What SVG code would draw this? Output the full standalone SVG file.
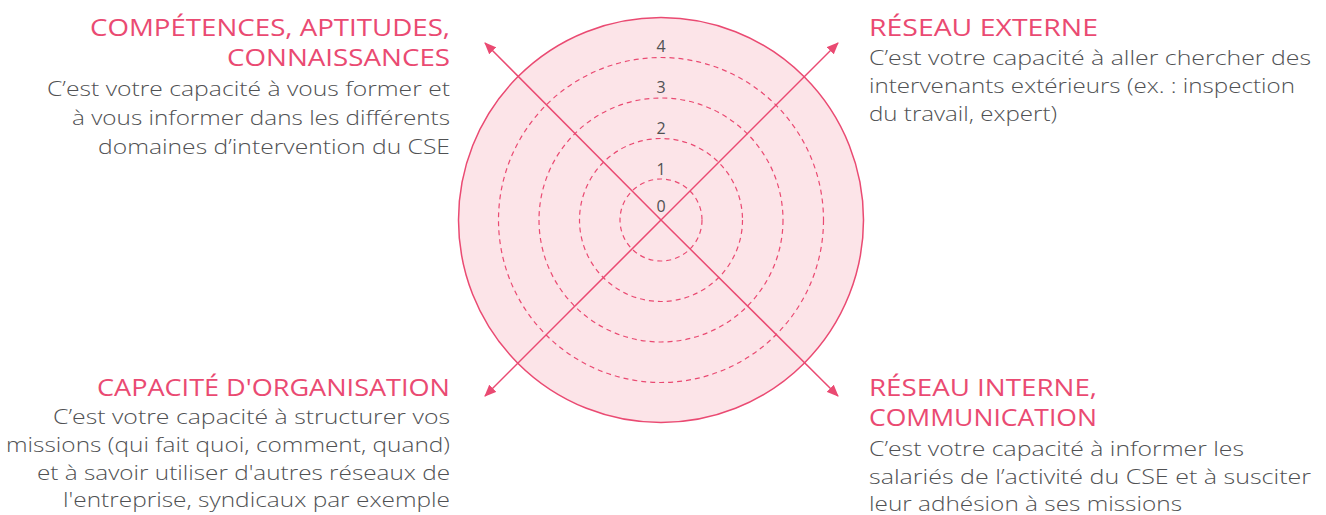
<svg xmlns="http://www.w3.org/2000/svg" width="1326" height="515" viewBox="0 0 1326 515">
<style>
.t{font-family:"Open Sans",Lato,sans-serif;font-size:24px;fill:#ea4a72}
.b{font-family:"Open Sans",Lato,sans-serif;font-size:21px;font-weight:300;fill:#505153}
.n{font-family:"Open Sans",Lato,sans-serif;font-size:16px;fill:#505153;text-anchor:middle}
.r{text-anchor:end}
.ring{fill:none;stroke:#ea4a72;stroke-width:1.2;stroke-dasharray:5 4}
.ax{stroke:#ea4a72;stroke-width:1.5;fill:none;marker-end:url(#ah)}
</style>
<defs>
<marker id="ah" viewBox="0 0 12 10" refX="11" refY="5" markerWidth="12" markerHeight="10" markerUnits="userSpaceOnUse" orient="auto">
<path d="M0,0 L12,5 L0,10 Z" fill="#ea4a72"/>
</marker>
</defs>
<rect width="1326" height="515" fill="#fff"/>
<g id="radar">
<circle cx="661" cy="220" r="202.5" fill="#fce4e8" stroke="#ea4a72" stroke-width="1.5"/>
<circle class="ring" cx="661" cy="220" r="41"/>
<circle class="ring" cx="661" cy="220" r="81.5"/>
<circle class="ring" cx="661" cy="220" r="122"/>
<circle class="ring" cx="661" cy="220" r="162.5"/>
<text class="n" x="661" y="212">0</text>
<text class="n" x="661" y="175">1</text>
<text class="n" x="661" y="134">2</text>
<text class="n" x="661" y="93">3</text>
<text class="n" x="661" y="52">4</text>
</g>
<g id="connectors">
<line class="ax" x1="661" y1="220" x2="485" y2="43"/>
<line class="ax" x1="661" y1="220" x2="838" y2="43"/>
<line class="ax" x1="661" y1="220" x2="485" y2="396"/>
<line class="ax" x1="661" y1="220" x2="838" y2="396"/>
</g>
<g id="competences">
<text class="t r" x="450" y="36" textLength="360" lengthAdjust="spacingAndGlyphs">COMPÉTENCES, APTITUDES,</text>
<text class="t r" x="450" y="66" textLength="223" lengthAdjust="spacingAndGlyphs">CONNAISSANCES</text>
<text class="b r" x="450" y="96" textLength="403" lengthAdjust="spacingAndGlyphs">C’est votre capacité à vous former et</text>
<text class="b r" x="450" y="125" textLength="378" lengthAdjust="spacingAndGlyphs">à vous informer dans les différents</text>
<text class="b r" x="450" y="154" textLength="352" lengthAdjust="spacingAndGlyphs">domaines d’intervention du CSE</text>
</g>
<g id="reseau-externe">
<text class="t" x="869" y="36" textLength="229" lengthAdjust="spacingAndGlyphs">RÉSEAU EXTERNE</text>
<text class="b" x="869" y="65" textLength="442" lengthAdjust="spacingAndGlyphs">C’est votre capacité à aller chercher des</text>
<text class="b" x="869" y="93" textLength="426" lengthAdjust="spacingAndGlyphs">intervenants extérieurs (ex. : inspection</text>
<text class="b" x="869" y="121" textLength="188" lengthAdjust="spacingAndGlyphs">du travail, expert)</text>
</g>
<g id="organisation">
<text class="t r" x="450" y="396" textLength="353" lengthAdjust="spacingAndGlyphs">CAPACITÉ D'ORGANISATION</text>
<text class="b r" x="450" y="424" textLength="397" lengthAdjust="spacingAndGlyphs">C’est votre capacité à structurer vos</text>
<text class="b r" x="450" y="452" textLength="444" lengthAdjust="spacingAndGlyphs">missions (qui fait quoi, comment, quand)</text>
<text class="b r" x="450" y="480" textLength="413" lengthAdjust="spacingAndGlyphs">et à savoir utiliser d'autres réseaux de</text>
<text class="b r" x="450" y="507" textLength="387" lengthAdjust="spacingAndGlyphs">l'entreprise, syndicaux par exemple</text>
</g>
<g id="reseau-interne">
<text class="t" x="869" y="396" textLength="228" lengthAdjust="spacingAndGlyphs">RÉSEAU INTERNE,</text>
<text class="t" x="869" y="426" textLength="228" lengthAdjust="spacingAndGlyphs">COMMUNICATION</text>
<text class="b" x="869" y="456" textLength="375" lengthAdjust="spacingAndGlyphs">C’est votre capacité à informer les</text>
<text class="b" x="869" y="484" textLength="442" lengthAdjust="spacingAndGlyphs">salariés de l’activité du CSE et à susciter</text>
<text class="b" x="869" y="511" textLength="313" lengthAdjust="spacingAndGlyphs">leur adhésion à ses missions</text>
</g>
</svg>
